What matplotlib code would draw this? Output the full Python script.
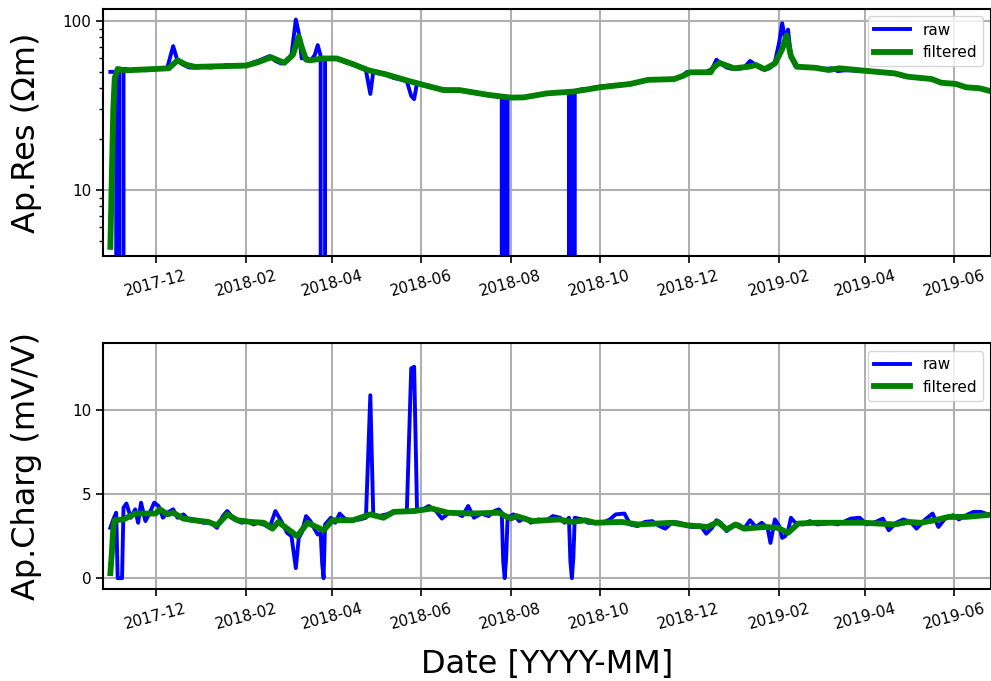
import numpy as np
import pandas as pd
import matplotlib
matplotlib.use("Agg")
import matplotlib.pyplot as plt
import matplotlib.ticker as mticker
import matplotlib.dates as mdates

# raw readings (zero = failed measurement)
raw_dates = [
    "2017-10-31", "2017-11-02", "2017-11-04", "2017-11-05", "2017-11-06", "2017-11-07",
    "2017-11-08", "2017-11-09",
    "2017-11-11", "2017-11-14", "2017-11-17", "2017-11-19", "2017-11-21", "2017-11-24",
    "2017-11-27", "2017-11-30", "2017-12-03", "2017-12-06", "2017-12-09", "2017-12-13",
    "2017-12-16", "2017-12-20", "2017-12-24", "2017-12-29", "2018-01-03", "2018-01-08",
    "2018-01-12", "2018-01-16", "2018-01-19", "2018-01-24", "2018-01-29", "2018-02-02",
    "2018-02-06", "2018-02-09", "2018-02-13", "2018-02-17", "2018-02-21", "2018-02-25",
    "2018-03-01", "2018-03-04", "2018-03-07", "2018-03-09", "2018-03-11", "2018-03-14",
    "2018-03-17", "2018-03-20", "2018-03-22", "2018-03-24", "2018-03-25", "2018-03-26",
    "2018-03-27",
    "2018-03-31", "2018-04-03", "2018-04-06", "2018-04-10", "2018-04-15", "2018-04-20",
    "2018-04-24", "2018-04-27", "2018-04-29", "2018-05-03", "2018-05-08", "2018-05-13",
    "2018-05-18", "2018-05-22", "2018-05-25", "2018-05-27", "2018-05-29", "2018-06-02",
    "2018-06-06", "2018-06-11", "2018-06-15", "2018-06-20", "2018-06-25", "2018-06-29",
    "2018-07-03", "2018-07-07", "2018-07-12", "2018-07-17", "2018-07-21", "2018-07-24",
    "2018-07-26", "2018-07-27", "2018-07-28", "2018-07-29", "2018-07-30",
    "2018-08-03", "2018-08-07", "2018-08-11",
    "2018-08-15", "2018-08-20", "2018-08-25", "2018-08-30", "2018-09-04", "2018-09-07",
    "2018-09-10", "2018-09-11", "2018-09-12", "2018-09-13", "2018-09-14",
    "2018-09-19", "2018-09-23", "2018-09-28",
    "2018-10-03", "2018-10-08", "2018-10-12", "2018-10-18", "2018-10-22", "2018-10-27",
    "2018-11-01", "2018-11-06", "2018-11-11", "2018-11-15", "2018-11-20", "2018-11-25",
    "2018-11-30", "2018-12-04", "2018-12-09", "2018-12-13", "2018-12-17", "2018-12-20",
    "2018-12-23", "2018-12-27", "2018-12-31", "2019-01-04", "2019-01-08", "2019-01-12",
    "2019-01-16", "2019-01-20", "2019-01-24", "2019-01-26", "2019-01-29", "2019-02-01",
    "2019-02-03", "2019-02-05", "2019-02-07", "2019-02-09", "2019-02-12", "2019-02-17",
    "2019-02-22", "2019-02-27", "2019-03-04", "2019-03-09", "2019-03-13", "2019-03-17",
    "2019-03-22", "2019-03-28", "2019-04-02", "2019-04-08", "2019-04-13", "2019-04-17",
    "2019-04-22", "2019-04-27", "2019-05-02", "2019-05-06", "2019-05-12", "2019-05-17",
    "2019-05-21", "2019-05-26", "2019-05-31", "2019-06-04", "2019-06-09", "2019-06-14",
    "2019-06-19", "2019-06-24", "2019-06-28",
]
raw_res = [
    50, 50, 50, 0, 51, 0,
    0, 52,
    52, 51, 52, 51, 52, 51,
    52, 52, 52, 52, 53, 71,
    58, 55, 53, 53, 53.5, 53,
    54, 54, 55, 54, 54, 54.5,
    57, 58, 60, 62, 58, 56,
    58, 63, 102, 85, 60, 61,
    58, 63, 72, 62, 0, 0,
    60,
    60, 60, 59, 57, 56, 53,
    51, 37, 50, 49, 48, 46,
    45, 44, 36, 34.5, 43, 42,
    41.5, 40, 39.5, 39, 39, 38.5,
    38, 37.5, 37, 36.5, 36, 35.5,
    35.5, 0, 35, 0, 35,
    35, 35.5, 35.5,
    36, 36.5, 37, 37.5, 38, 38,
    38, 0, 38, 0, 38.5,
    39.5, 39.5, 40.5,
    41, 41.5, 41.5, 42, 42.5, 43.5,
    44.5, 45, 45, 45, 45.5, 46.5,
    50, 49.5, 49.5, 50, 52, 59,
    56, 53, 52, 52, 53, 58,
    55, 52, 52, 53, 57, 75,
    97, 78, 89, 62, 54, 53.5,
    53.5, 53, 52, 52.5, 50.5, 51,
    51, 50.5, 50.5, 50, 49.5, 49,
    48.5, 47, 46.5, 46, 45.5, 45,
    43.5, 43, 42.5, 42, 40.5, 40.5,
    40, 38.5, 38,
]
raw_chg = [
    3.0, 3.5, 3.9, 0, 0, 0,
    0, 4.2,
    4.45, 3.6, 4.1, 3.3, 4.5, 3.4,
    3.9, 4.5, 4.3, 3.6, 3.9, 4.1,
    3.6, 3.8, 3.45, 3.4, 3.3, 3.3,
    3.0, 3.7, 4.0, 3.5, 3.3, 3.4,
    3.2, 3.3, 3.2, 3.0, 4.0, 3.4,
    2.7, 2.5, 0.6, 2.4, 2.7, 3.7,
    3.4, 2.9, 2.6, 2.7, 0.9, 0,
    3.2,
    3.6, 3.3, 3.85, 3.5, 3.45, 3.5,
    3.6, 10.9, 3.8, 3.7, 3.8, 3.95,
    4.0, 4.0, 12.5, 12.6, 4.0, 4.1,
    4.3, 4.0, 3.55, 3.9, 3.85, 3.7,
    4.3, 3.6, 3.85, 3.7, 4.0, 4.1,
    3.9, 1.0, 0, 1.2, 3.6,
    3.8, 3.4, 3.6,
    3.3, 3.5, 3.4, 3.7, 3.6, 3.3,
    3.6, 1.0, 0, 1.2, 3.6,
    3.5, 3.3, 3.3,
    3.3, 3.5, 3.8, 3.85, 3.2, 3.1,
    3.35, 3.4, 3.1, 2.95, 3.35, 3.3,
    3.1, 3.05, 3.15, 2.65, 3.0, 3.45,
    3.3, 2.8, 3.1, 3.2, 2.95, 3.45,
    3.05, 3.3, 3.0, 2.1, 3.5, 3.1,
    2.4, 2.5, 2.8, 3.6, 3.3, 3.2,
    3.4, 3.2, 3.25, 3.3, 3.2, 3.35,
    3.55, 3.6, 3.2, 3.35, 3.55, 2.85,
    3.3, 3.5, 3.35, 2.95, 3.5, 3.85,
    3.05, 3.6, 3.75, 3.5, 3.75, 3.95,
    3.95, 3.8, 3.8,
]

# filtered apparent resistivity
filt_res_dates = [
    "2017-10-31", "2017-11-01", "2017-11-02", "2017-11-03", "2017-11-05", "2017-11-10",
    "2017-11-20", "2017-12-01", "2017-12-10", "2017-12-16", "2017-12-22", "2017-12-28",
    "2018-01-15", "2018-02-01", "2018-02-09", "2018-02-18", "2018-02-27", "2018-03-05",
    "2018-03-09", "2018-03-11", "2018-03-14", "2018-03-17", "2018-03-25", "2018-04-04",
    "2018-04-14", "2018-04-26", "2018-05-07", "2018-05-24", "2018-06-04", "2018-06-16",
    "2018-06-27", "2018-07-17", "2018-08-01", "2018-08-10", "2018-08-26", "2018-09-13",
    "2018-09-23", "2018-10-01", "2018-10-10", "2018-10-22", "2018-11-03", "2018-11-21",
    "2018-11-27", "2018-12-02", "2018-12-16", "2018-12-18", "2018-12-22", "2019-01-01",
    "2019-01-11", "2019-01-16", "2019-01-22", "2019-01-29", "2019-02-03", "2019-02-06",
    "2019-02-09", "2019-02-13", "2019-02-25", "2019-03-07", "2019-03-14", "2019-03-31",
    "2019-04-21", "2019-04-30", "2019-05-16", "2019-05-23", "2019-06-02", "2019-06-09",
    "2019-06-18", "2019-06-28",
]
filt_res = [
    4.6, 12, 30, 46, 52, 51,
    51.5, 52, 52.5, 58.5, 55, 53.5,
    54, 54.5, 57, 61, 56.5, 63,
    81, 70, 59, 58.5, 60, 60,
    56, 51, 48.5, 44, 41.5, 39,
    39, 36.5, 35.2, 35.3, 37.3, 38.2,
    39.4, 40.5, 41.3, 42.4, 44.8, 45.3,
    47.3, 49.7, 49.7, 53, 56.5, 52.5,
    53.6, 54.9, 51.8, 56, 68, 82,
    62, 53.6, 52.9, 51.3, 52.5, 50.8,
    49, 46.8, 45.4, 43.1, 42.4, 40.5,
    40, 38,
]

# filtered apparent chargeability
filt_chg_dates = [
    "2017-10-31", "2017-11-01", "2017-11-02", "2017-11-03", "2017-11-09", "2017-11-17",
    "2017-12-01", "2017-12-04", "2017-12-09", "2017-12-13", "2017-12-20", "2018-01-01",
    "2018-01-06", "2018-01-12", "2018-01-19", "2018-01-26", "2018-02-04", "2018-02-13",
    "2018-02-19", "2018-02-23", "2018-03-08", "2018-03-15", "2018-03-26", "2018-04-01",
    "2018-04-15", "2018-04-27", "2018-05-06", "2018-05-13", "2018-05-27", "2018-06-08",
    "2018-06-19", "2018-07-05", "2018-07-24", "2018-08-01", "2018-08-05", "2018-08-16",
    "2018-09-03", "2018-09-12", "2018-09-21", "2018-09-28", "2018-10-16", "2018-10-27",
    "2018-11-20", "2018-11-30", "2018-12-14", "2018-12-21", "2018-12-27", "2019-01-02",
    "2019-01-08", "2019-01-22", "2019-01-31", "2019-02-07", "2019-02-14", "2019-02-25",
    "2019-03-31", "2019-04-21", "2019-04-30", "2019-05-09", "2019-05-21", "2019-05-28",
    "2019-06-09", "2019-06-28",
]
filt_chg = [
    0.3, 1.5, 3.0, 3.45, 3.5, 3.85,
    3.85, 4.1, 3.8, 3.9, 3.55, 3.4,
    3.35, 3.15, 3.8, 3.45, 3.35, 3.3,
    2.95, 3.35, 2.5, 3.3, 2.85, 3.45,
    3.45, 3.8, 3.6, 3.95, 4.0, 4.15,
    3.9, 3.85, 3.9, 3.55, 3.7, 3.4,
    3.5, 3.35, 3.45, 3.3, 3.35, 3.2,
    3.3, 3.15, 3.05, 3.35, 2.9, 3.2,
    2.95, 3.05, 3.0, 2.7, 3.25, 3.3,
    3.3, 3.2, 3.35, 3.3, 3.5, 3.65,
    3.65, 3.8,
]

t_raw = pd.to_datetime(raw_dates)
t_res = pd.to_datetime(filt_res_dates)
t_chg = pd.to_datetime(filt_chg_dates)

fig = plt.figure(figsize=(9.91, 6.81), dpi=100)
ax1 = fig.add_axes([0.104, 0.624, 0.896, 0.363])
ax2 = fig.add_axes([0.104, 0.135, 0.896, 0.361])

ax1.plot(t_raw, raw_res, color="b", lw=2.8, label="raw")
ax1.plot(t_res, filt_res, color="g", lw=4.2, label="filtered")
ax1.set_yscale("log")
ax1.set_ylim(4.06, 118)
ax1.yaxis.set_major_formatter(mticker.FuncFormatter(lambda v, p: f"{v:g}"))
ax1.yaxis.set_minor_formatter(mticker.NullFormatter())
ax1.set_ylabel("Ap.Res (Ωm)", fontsize=23)

ax2.plot(t_raw, raw_chg, color="b", lw=2.8, label="raw")
ax2.plot(t_chg, filt_chg, color="g", lw=4.2, label="filtered")
ax2.set_ylim(-0.65, 14)
ax2.set_yticks([0, 5, 10])
ax2.set_ylabel("Ap.Charg (mV/V)", fontsize=23)
ax2.set_xlabel("Date [YYYY-MM]", fontsize=23)
ax2.xaxis.set_label_coords(0.5, -0.245)

for ax in (ax1, ax2):
    ax.set_xlim(pd.Timestamp("2017-10-26"), pd.Timestamp("2019-06-26"))
    ax.xaxis.set_major_locator(mdates.MonthLocator(bymonth=[2, 4, 6, 8, 10, 12]))
    ax.xaxis.set_major_formatter(mdates.DateFormatter("%Y-%m"))
    ax.grid(True, which="major", color="#b0b0b0", lw=1.5)
    ax.tick_params(axis="both", which="major", labelsize=11, length=5, width=1.2)
    ax.tick_params(axis="y", which="minor", length=3, width=1)
    for lab in ax.get_xticklabels():
        lab.set_rotation(15)
        lab.set_ha("center")
    for sp in ax.spines.values():
        sp.set_linewidth(1.5)
    ax.yaxis.set_label_coords(-0.069, 0.5)
    ax.legend(loc="upper right", fontsize=11, handlelength=2.4)

fig.savefig("out.png", dpi=100)
